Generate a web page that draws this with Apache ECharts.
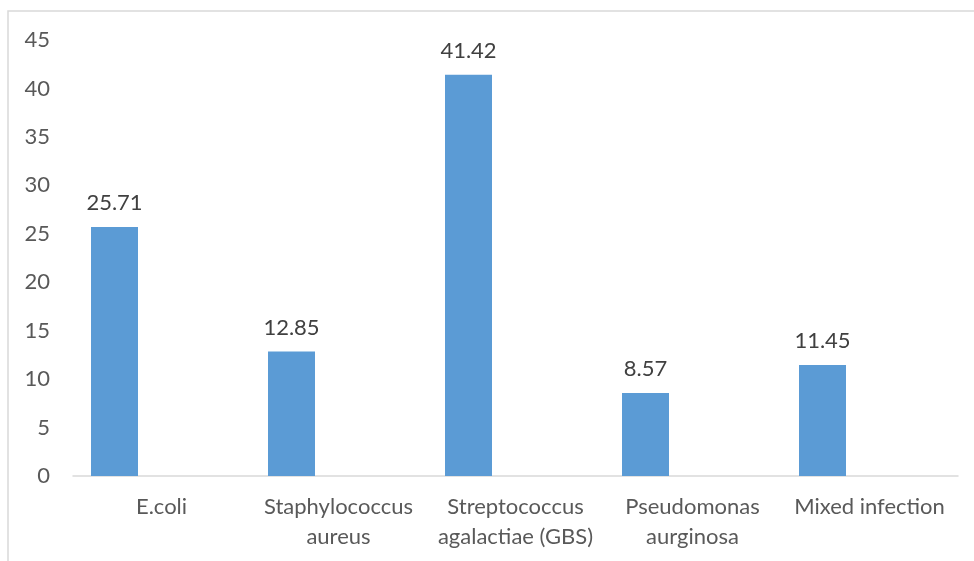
<!DOCTYPE html>
<html>
<head>
<meta charset="utf-8">
<script src="https://cdn.jsdelivr.net/npm/echarts@6/dist/echarts.min.js"></script>
<style>
  html, body { margin: 0; padding: 0; background: #fff; }
  #chart { width: 974px; height: 561px; }
</style>
</head>
<body>
<div id="chart"></div>
<script>
// Pathogen shares (%)
const categories = [
  'E.coli',
  'Staphylococcus\naureus',
  'Streptococcus\nagalactiae (GBS)',
  'Pseudomonas\naurginosa',
  'Mixed infection'
];
const percentages = [25.71, 12.85, 41.42, 8.57, 11.45];
// Empty companion series keep each bar on the left side of its slot
const spacerA = [null, null, null, null, null];
const spacerB = [null, null, null, null, null];
const yTicks = { min: 0, max: 45, step: 5 };

const FONT = 'Lato, "Open Sans", sans-serif';

const chart = echarts.init(document.getElementById('chart'), null, { renderer: 'canvas' });
chart.setOption({
  animation: false,
  backgroundColor: '#ffffff',
  graphic: [{
    type: 'rect',
    shape: { x: 8, y: 11, width: 1000, height: 600 },
    style: { fill: 'none', stroke: '#D9D9D9', lineWidth: 1.5 },
    silent: true,
    z: -1
  }],
  grid: { left: 73, right: 16, top: 40, bottom: 85, containLabel: false },
  xAxis: {
    type: 'category',
    data: categories,
    axisLine: { show: true, lineStyle: { color: '#D9D9D9', width: 1.5 } },
    axisTick: { show: false },
    axisLabel: {
      color: '#595959',
      fontFamily: FONT,
      fontSize: 22,
      lineHeight: 30,
      margin: 16,
      interval: 0
    }
  },
  yAxis: {
    type: 'value',
    min: yTicks.min,
    max: yTicks.max,
    interval: yTicks.step,
    splitLine: { show: false },
    axisLine: { show: false },
    axisTick: { show: false },
    axisLabel: {
      color: '#595959',
      fontFamily: FONT,
      fontSize: 22,
      margin: 23
    }
  },
  series: [
    {
      type: 'bar',
      data: percentages,
      barWidth: 47,
      barGap: '0%',
      itemStyle: { color: '#5B9BD5' },
      label: {
        show: true,
        position: 'top',
        distance: 13,
        color: '#404040',
        fontFamily: FONT,
        fontSize: 22,
        formatter: p => p.value.toFixed(2)
      }
    },
    { type: 'bar', data: spacerA, barWidth: 47, barGap: '0%' },
    { type: 'bar', data: spacerB, barWidth: 47, barGap: '0%' }
  ]
});
</script>
</body>
</html>
